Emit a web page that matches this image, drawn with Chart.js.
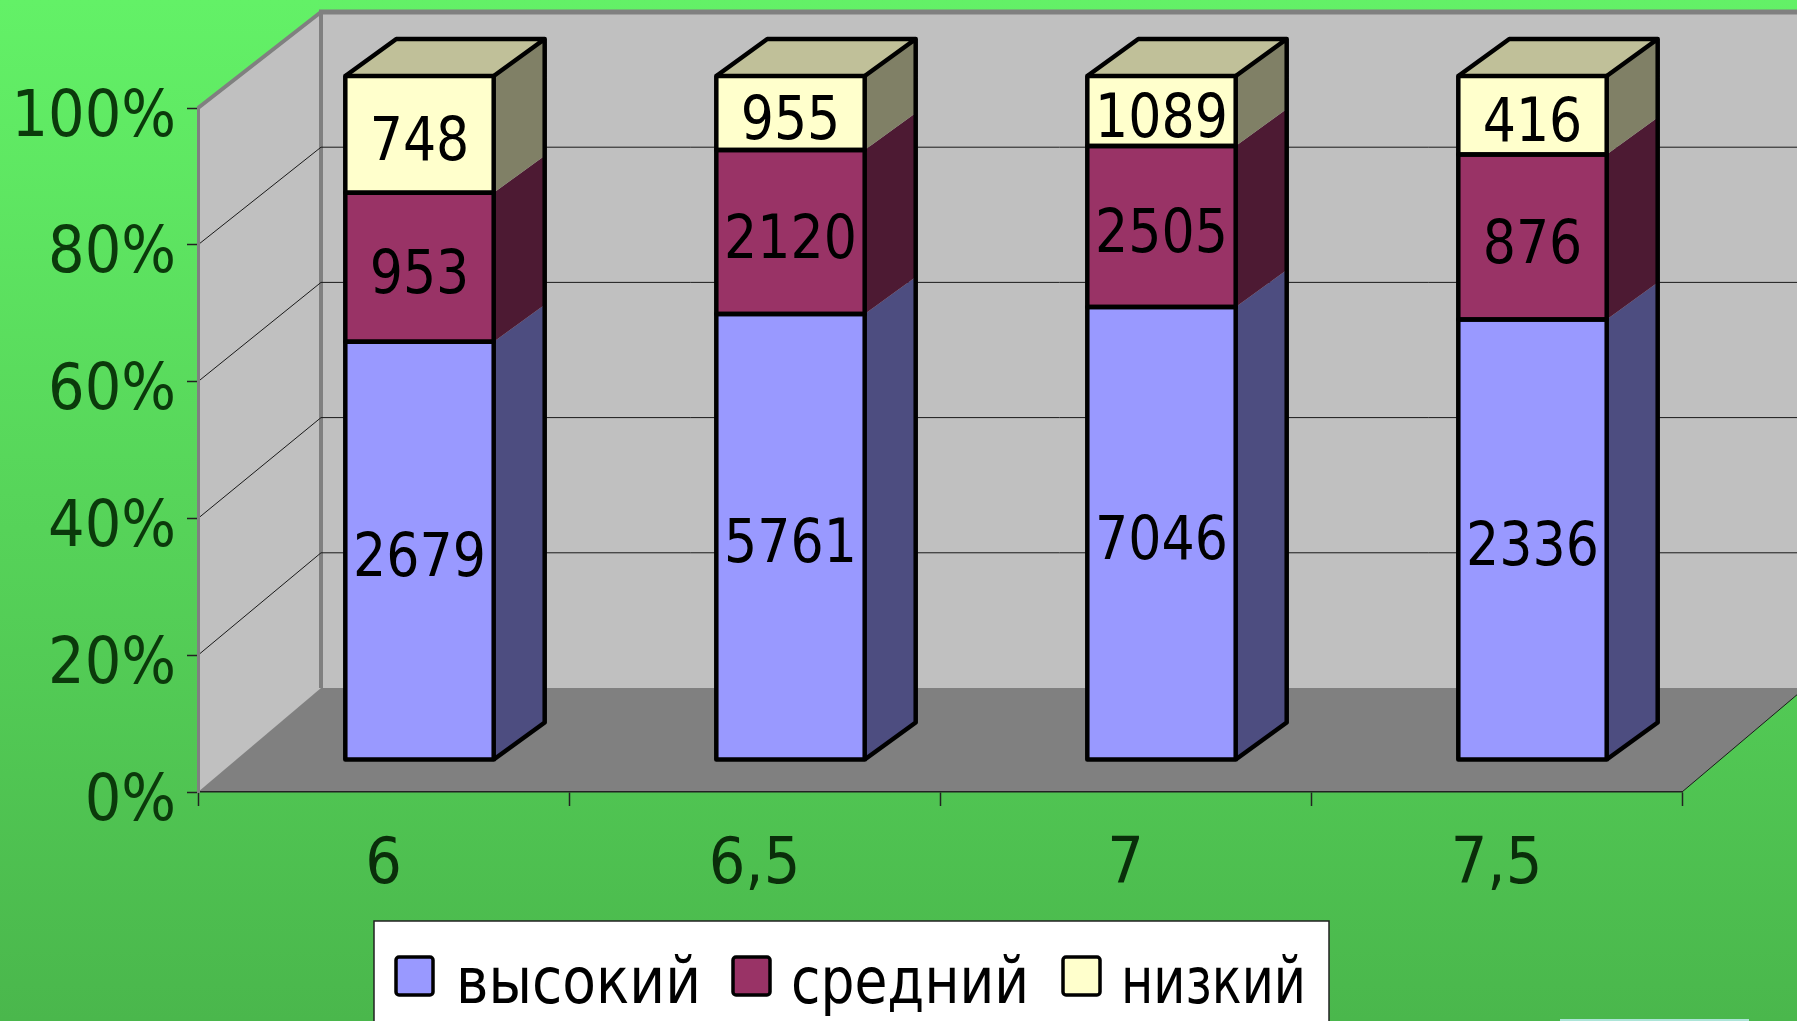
<!DOCTYPE html>
<html lang="ru">
<head>
<meta charset="utf-8">
<title>Chart</title>
<script src="https://cdn.jsdelivr.net/npm/chart.js@4"></script>
<style>
html,body{margin:0;padding:0;width:1797px;height:1021px;overflow:hidden;
background:linear-gradient(180deg,#63F167 0%,#4AB74C 100%);}
canvas{display:block}
</style>
</head>
<body>
<canvas id="c" width="1797" height="1021"></canvas>
<script>
const categories = ['6', '6,5', '7', '7,5'];
const highValues = [2679, 5761, 7046, 2336];
const midValues  = [953, 2120, 2505, 876];
const lowValues  = [748, 955, 1089, 416];
const seriesNames = ['высокий', 'средний', 'низкий'];
const yTicks = [0, 20, 40, 60, 80, 100];

const rawSeries = [highValues, midValues, lowValues];
const frontColors = ['#9999FF', '#993366', '#FFFFCC'];
const sideColors  = ['#4D4D80', '#4D1A33', '#808066'];
const topColor = '#C0C099';
const totals = categories.map((_, i) => rawSeries.reduce((s, a) => s + a[i], 0));

// depth of the wall box (slight perspective: top recedes less than bottom) and the bars inside it
const WALL_DX = 123, WALL_DY_TOP = 96, WALL_DY_BOT = 104;
const BAR_OFF_X = 36, BAR_OFF_Y = 32, BAR_DX = 51, BAR_DY = 37;
const FONT = '"DejaVu Sans"';

const box3d = {
  id: 'box3d',
  beforeDraw(chart) {
    const { ctx, scales: { x, y } } = chart;
    const L = x.left, R = x.right, B = y.getPixelForValue(0), T = y.getPixelForValue(100);
    const backTop = T - WALL_DY_TOP, backBot = B - WALL_DY_BOT;
    ctx.save();
    ctx.fillStyle = '#C0C0C0';
    ctx.beginPath();
    ctx.moveTo(L, T); ctx.lineTo(L + WALL_DX, backTop); ctx.lineTo(R + WALL_DX, backTop);
    ctx.lineTo(R + WALL_DX, backBot); ctx.lineTo(L, B); ctx.closePath(); ctx.fill();
    ctx.fillStyle = '#808080';
    ctx.beginPath();
    ctx.moveTo(L, B); ctx.lineTo(L + WALL_DX, backBot); ctx.lineTo(R + WALL_DX, backBot);
    ctx.lineTo(R, B); ctx.closePath(); ctx.fill();
    // wall edges
    ctx.strokeStyle = '#808080';
    ctx.lineWidth = 4;
    ctx.beginPath();
    ctx.moveTo(L, T); ctx.lineTo(L + WALL_DX, backTop);
    ctx.moveTo(L + WALL_DX, backTop); ctx.lineTo(L + WALL_DX, backBot);
    ctx.stroke();
    ctx.lineWidth = 5;
    ctx.beginPath();
    ctx.moveTo(L + WALL_DX - 2, backTop); ctx.lineTo(R + WALL_DX, backTop);
    ctx.stroke();
    // gridlines on side and back walls
    ctx.strokeStyle = '#1a1a1a';
    ctx.lineWidth = 1;
    ctx.beginPath();
    yTicks.filter(v => v > 0 && v < 100).forEach(v => {
      const p = y.getPixelForValue(v);
      const q = backBot - (backBot - backTop) * v / 100;
      ctx.moveTo(L, p); ctx.lineTo(L + WALL_DX, q); ctx.lineTo(R + WALL_DX, q);
    });
    ctx.moveTo(R, B); ctx.lineTo(R + WALL_DX, backBot);
    ctx.stroke();
    ctx.restore();
  },
  beforeDatasetsDraw(chart) {
    chart.ctx.save();
    chart.ctx.translate(BAR_OFF_X, -BAR_OFF_Y);
  },
  afterDatasetsDraw(chart) {
    const { ctx } = chart;
    categories.forEach((_, i) => {
      const els = rawSeries.map((_, d) => chart.getDatasetMeta(d).data[i]);
      const left = e => e.x - e.width / 2, right = e => e.x + e.width / 2;
      ctx.lineJoin = 'round';
      // side faces
      els.forEach((e, d) => {
        ctx.fillStyle = sideColors[d];
        ctx.beginPath();
        ctx.moveTo(right(e), e.y); ctx.lineTo(right(e) + BAR_DX, e.y - BAR_DY);
        ctx.lineTo(right(e) + BAR_DX, e.base - BAR_DY); ctx.lineTo(right(e), e.base);
        ctx.closePath(); ctx.fill();
      });
      // top face
      const t = els[els.length - 1], b = els[0];
      ctx.fillStyle = topColor;
      ctx.beginPath();
      ctx.moveTo(left(t), t.y); ctx.lineTo(left(t) + BAR_DX, t.y - BAR_DY);
      ctx.lineTo(right(t) + BAR_DX, t.y - BAR_DY); ctx.lineTo(right(t), t.y);
      ctx.closePath(); ctx.fill();
      // outlines
      ctx.strokeStyle = '#000';
      ctx.lineWidth = 4.5;
      els.forEach(e => ctx.strokeRect(left(e), e.y, e.width, e.base - e.y));
      ctx.beginPath();
      ctx.moveTo(left(t), t.y); ctx.lineTo(left(t) + BAR_DX, t.y - BAR_DY);
      ctx.lineTo(right(t) + BAR_DX, t.y - BAR_DY); ctx.lineTo(right(t), t.y);
      ctx.moveTo(right(t) + BAR_DX, t.y - BAR_DY); ctx.lineTo(right(t) + BAR_DX, b.base - BAR_DY);
      ctx.lineTo(right(t), b.base);
      ctx.stroke();
      // value labels
      ctx.fillStyle = '#000';
      ctx.font = '60px ' + FONT;
      ctx.textAlign = 'center';
      ctx.textBaseline = 'middle';
      els.forEach((e, d) => {
        const s = String(rawSeries[d][i]);
        ctx.fillText(s, e.x, (e.y + e.base) / 2 + 10, ctx.measureText(s).width * 0.87);
      });
    });
    ctx.restore();
  },
  afterDraw(chart) {
    const { ctx } = chart;
    ctx.save();
    // legend box
    ctx.fillStyle = '#fff';
    ctx.fillRect(374, 921, 955, 110);
    ctx.strokeStyle = '#222';
    ctx.lineWidth = 1.5;
    ctx.strokeRect(374, 921, 955, 110);
    const sw = [396, 733, 1063], tx = [456, 791, 1121], tw = [245, 238, 185];
    ctx.font = '64px ' + FONT;
    ctx.textAlign = 'left';
    ctx.textBaseline = 'alphabetic';
    seriesNames.forEach((n, d) => {
      ctx.fillStyle = frontColors[d];
      ctx.strokeStyle = '#000';
      ctx.lineWidth = 3.5;
      ctx.beginPath();
      ctx.roundRect(sw[d], 957, 37, 38, 3);
      ctx.fill(); ctx.stroke();
      ctx.fillStyle = '#000';
      ctx.fillText(n, tx[d], 1003, tw[d]);
    });
    // pale strip at the lower page edge
    ctx.fillStyle = '#ACE5D8';
    ctx.fillRect(1560, 1019, 189, 2);
    ctx.restore();
  }
};

new Chart(document.getElementById('c'), {
  type: 'bar',
  data: {
    labels: categories,
    datasets: seriesNames.map((name, d) => ({
      label: name,
      data: rawSeries[d].map((v, i) => v / totals[i] * 100),
      backgroundColor: frontColors[d],
      borderWidth: 0,
      clip: false,
      categoryPercentage: 1,
      barPercentage: 0.4
    }))
  },
  options: {
    responsive: false,
    animation: false,
    events: [],
    layout: { padding: { left: 0, top: 108, right: 115, bottom: 20 } },
    plugins: { legend: { display: false }, tooltip: { enabled: false }, title: { display: false } },
    scales: {
      x: {
        stacked: true,
        afterFit(s) { s.height = 1021 - 792 - 20; },
        grid: { drawOnChartArea: false, offset: true, tickLength: 14, tickColor: '#222', tickWidth: 1.5 },
        border: { color: '#222', width: 1.5 },
        ticks: { color: '#0A2E0A', padding: 22, maxRotation: 0, autoSkip: false,
                 font: { family: '"DejaVu Sans Condensed","DejaVu Sans"', size: 64 } }
      },
      y: {
        stacked: true,
        min: 0,
        max: 100,
        afterFit(s) { s.width = 198; },
        afterBuildTicks(s) { s.ticks = yTicks.map(v => ({ value: v })); },
        grid: { drawOnChartArea: false, tickLength: 11, tickColor: '#222', tickWidth: 1.5 },
        border: { color: '#808080', width: 3 },
        ticks: { color: '#0B3A0B', padding: 11, labelOffset: 11,
                 callback: v => v + '%',
                 font: { family: '"DejaVu Sans Condensed","DejaVu Sans"', size: 64 } }
      }
    }
  },
  plugins: [box3d]
});
</script>
</body>
</html>
